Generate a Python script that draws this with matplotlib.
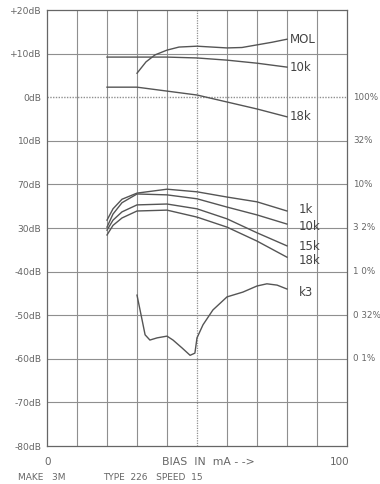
import matplotlib
matplotlib.use('Agg')
import matplotlib.pyplot as plt

# upper curves (dB vs bias)
mol_x = [30, 33, 36, 40, 44, 50, 55, 60, 65, 70, 75, 80]
mol_y = [5.5, 8.1, 9.7, 10.8, 11.5, 11.7, 11.5, 11.3, 11.4, 12.0, 12.6, 13.3]
k10_top_x = [20, 30, 40, 50, 60, 70, 80]
k10_top_y = [9.2, 9.2, 9.2, 9.0, 8.5, 7.8, 6.9]
k18_top_x = [20, 30, 40, 50, 60, 70, 80]
k18_top_y = [2.3, 2.3, 1.4, 0.5, -1.1, -2.7, -4.5]

# lower sensitivity curves
low_x = [20, 22, 25, 30, 40, 50, 60, 70, 80]
k1_y = [-28.2, -25.6, -23.4, -22.0, -21.1, -21.7, -22.9, -24.0, -26.1]
k10_y = [-29.8, -26.8, -24.2, -22.2, -22.4, -23.3, -25.2, -27.0, -29.1]
k15_y = [-30.5, -28.2, -26.3, -24.7, -24.5, -25.6, -27.9, -31.1, -34.1]
k18_y = [-31.6, -29.4, -27.7, -26.1, -25.9, -27.5, -29.8, -33.0, -36.7]

# third harmonic distortion
k3_x = [30, 31.7, 32.7, 34.3, 36.7, 40, 42, 45, 47.7, 49.3, 50, 52, 55.3, 60, 65.3, 70, 73.3, 76.7, 80]
k3_y = [-45.4, -51.1, -54.5, -55.7, -55.2, -54.8, -55.7, -57.5, -59.2, -58.7, -55.2, -52.2, -48.8,
        -45.8, -44.7, -43.3, -42.8, -43.1, -44.0]

db_ticks = [20, 10, 0, -10, -20, -30, -40, -50, -60, -70, -80]
db_labels = ['+20dB', '+10dB', '0dB', '10dB', '70dB', '30dB', '-40dB', '-50dB', '-60dB', '-70dB', '-80dB']
pct_ticks = [0, -10, -20, -30, -40, -50, -60]
pct_labels = ['100%', '32%', '10%', '3 2%', '1 0%', '0 32%', '0 1%']

ink = '#555555'
grid = '#8f8f8f'
txt = '#666666'

fig = plt.figure(figsize=(3.8, 4.84), dpi=100)
ax = fig.add_axes([47 / 380, 1 - 446 / 484, 300 / 380, 436 / 484])
ax.set_xlim(0, 100)
ax.set_ylim(-80, 20)

# grid
for gx in range(10, 100, 10):
    if gx == 50:
        ax.axvline(gx, color=grid, lw=0.9, ls=(0, (1, 1)))
    else:
        ax.axvline(gx, color=grid, lw=0.8)
for gy in range(-70, 20, 10):
    if gy == 0:
        ax.axhline(gy, color=grid, lw=1.0, ls=(0, (1, 1)))
    else:
        ax.axhline(gy, color=grid, lw=0.8)

for s in ax.spines.values():
    s.set_color('#666666')
    s.set_linewidth(0.9)

lw = 1.0
ax.plot(mol_x, mol_y, color=ink, lw=lw)
ax.plot(k10_top_x, k10_top_y, color=ink, lw=lw)
ax.plot(k18_top_x, k18_top_y, color=ink, lw=lw)
ax.plot(low_x, k1_y, color=ink, lw=lw)
ax.plot(low_x, k10_y, color=ink, lw=lw)
ax.plot(low_x, k15_y, color=ink, lw=lw)
ax.plot(low_x, k18_y, color=ink, lw=lw)
ax.plot(k3_x, k3_y, color=ink, lw=lw)

# curve labels
lab = dict(color='#444444', fontsize=8.5, va='center', ha='left')
ax.text(81, 13.3, 'MOL', **lab)
ax.text(81, 6.9, '10k', **lab)
ax.text(81, -4.5, '18k', **lab)
ax.text(84, -25.8, '1k', **lab)
ax.text(84, -29.6, '10k', **lab)
ax.text(84, -34.2, '15k', **lab)
ax.text(84, -37.5, '18k', **lab)
ax.text(84, -44.8, 'k3', **lab)

ax.set_yticks(db_ticks)
ax.set_yticklabels(db_labels)
ax.set_xticks([])
ax.tick_params(axis='y', length=0, pad=4, labelsize=6.6, labelcolor=txt)

for v, l in zip(pct_ticks, pct_labels):
    ax.text(102, v, l, fontsize=6.3, color=txt, va='center', ha='left')

# axis texts below
fig.text(48 / 380, 1 - 462 / 484, '0', fontsize=7.5, color=txt, ha='center', va='center')
fig.text(208 / 380, 1 - 462 / 484, 'BIAS  IN  mA - ->', fontsize=7.8, color=txt, ha='center', va='center')
fig.text(340 / 380, 1 - 462 / 484, '100', fontsize=7.5, color=txt, ha='center', va='center')
fig.text(18 / 380, 1 - 477 / 484, 'MAKE   3M', fontsize=6.5, color=txt, ha='left', va='center')
fig.text(103 / 380, 1 - 477 / 484, 'TYPE  226   SPEED  15', fontsize=6.5, color=txt, ha='left', va='center')

fig.savefig('out.png', dpi=100)
